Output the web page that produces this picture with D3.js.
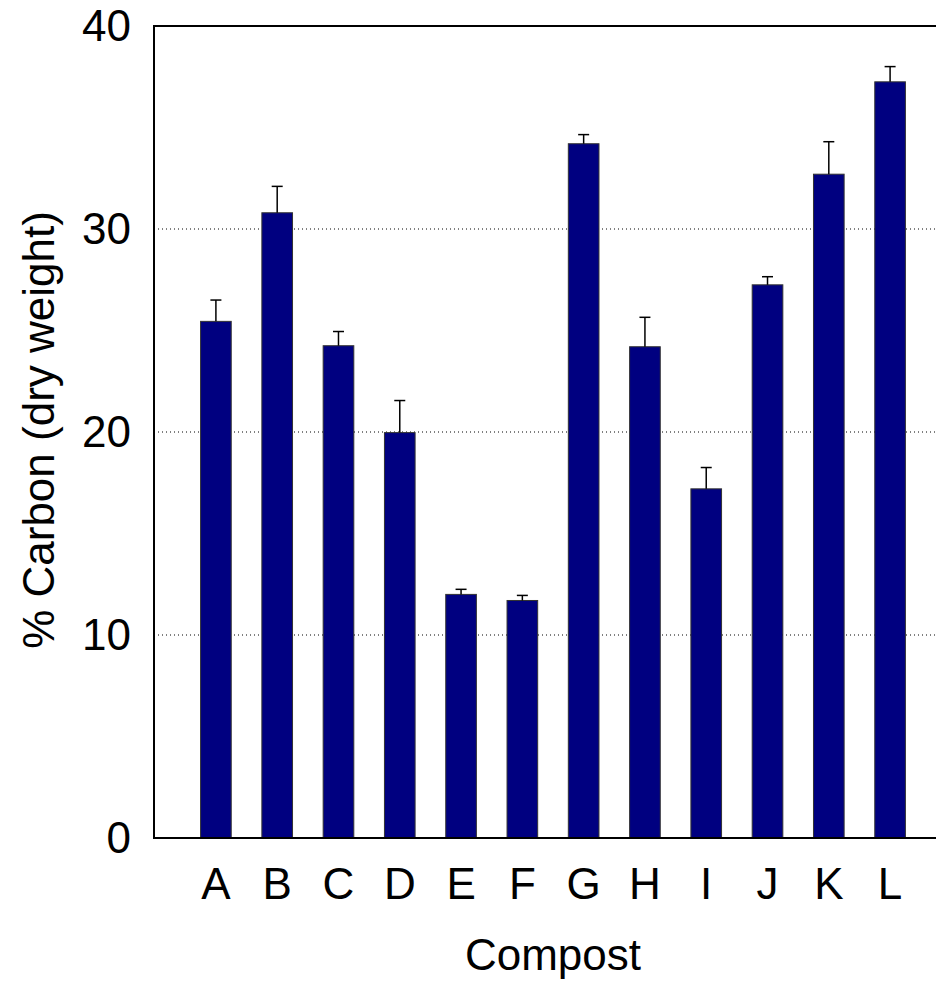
<!DOCTYPE html>
<html>
<head>
<meta charset="utf-8">
<script src="https://cdn.jsdelivr.net/npm/d3@7"></script>
<style>
  html, body { margin: 0; padding: 0; background: #fff; }
  svg { display: block; font-family: "Liberation Sans", Arial, sans-serif; }
</style>
</head>
<body>
<svg id="chart" width="936" height="984"></svg>
<script>
// Compost carbon content, mean and upper error bound
const composts = ["A", "B", "C", "D", "E", "F", "G", "H", "I", "J", "K", "L"];
const carbonMean = [25.45, 30.8, 24.25, 19.97, 12.0, 11.7, 34.2, 24.2, 17.2, 27.25, 32.7, 37.25];
const carbonUpper = [26.5, 32.1, 24.95, 21.55, 12.25, 11.95, 34.65, 25.65, 18.25, 27.65, 34.3, 38.0];
const yTicks = [0, 10, 20, 30, 40];

const svg = d3.select("#chart");
const plotLeft = 154, plotTop = 26, plotBottom = 838, plotRight = 952;
const fontSize = 44;

const x = d3.scaleBand()
  .domain(composts)
  .range([plotLeft, plotRight])
  .paddingInner(0.5)
  .paddingOuter(0.76);

const y = d3.scaleLinear().domain([0, 40]).range([plotBottom, plotTop]);

// dotted gridlines
svg.append("g")
  .selectAll("line")
  .data(yTicks.filter(d => d > 0 && d < 40))
  .join("line")
  .attr("x1", plotLeft).attr("x2", 936)
  .attr("y1", d => y(d)).attr("y2", d => y(d))
  .attr("stroke", "#000")
  .attr("stroke-width", 1)
  .attr("stroke-dasharray", "1,3");

// bars
svg.append("g")
  .selectAll("rect")
  .data(composts)
  .join("rect")
  .attr("x", d => x(d))
  .attr("width", x.bandwidth())
  .attr("y", (d, i) => y(carbonMean[i]))
  .attr("height", (d, i) => y(0) - y(carbonMean[i]))
  .attr("fill", "#000080")
  .attr("stroke", "#333")
  .attr("stroke-width", 1);

// upper error bars
const err = svg.append("g").attr("stroke", "#000").attr("stroke-width", 1.5);
composts.forEach((c, i) => {
  const cx = x(c) + x.bandwidth() / 2;
  err.append("line")
    .attr("x1", cx).attr("x2", cx)
    .attr("y1", y(carbonMean[i])).attr("y2", y(carbonUpper[i]));
  err.append("line")
    .attr("x1", cx - 5.5).attr("x2", cx + 5.5)
    .attr("y1", y(carbonUpper[i])).attr("y2", y(carbonUpper[i]));
});

// frame: left axis, bottom axis, top border
const frame = svg.append("g").attr("stroke", "#000").attr("stroke-width", 2).attr("fill", "none");
frame.append("path").attr("d", `M936,${plotTop}H${plotLeft}V${plotBottom}H936`);

// y axis labels
const yAxis = d3.axisLeft(y).tickValues(yTicks).tickSize(0).tickPadding(23).tickFormat(d3.format("d"));
svg.append("g")
  .attr("transform", `translate(${plotLeft},0)`)
  .call(yAxis)
  .call(g => g.select(".domain").remove())
  .call(g => g.selectAll("text")
    .attr("font-family", "Liberation Sans, Arial, sans-serif")
    .attr("font-size", fontSize)
    .attr("fill", "#000"));

// x axis labels
const xAxis = d3.axisBottom(x).tickSize(0).tickPadding(30);
svg.append("g")
  .attr("transform", `translate(0,${plotBottom})`)
  .call(xAxis)
  .call(g => g.select(".domain").remove())
  .call(g => g.selectAll("text")
    .attr("font-family", "Liberation Sans, Arial, sans-serif")
    .attr("font-size", fontSize)
    .attr("fill", "#000"));

// axis titles
svg.append("text")
  .attr("x", 553).attr("y", 970)
  .attr("text-anchor", "middle")
  .attr("font-size", fontSize)
  .text("Compost");

svg.append("text")
  .attr("transform", "translate(54,430) rotate(-90)")
  .attr("text-anchor", "middle")
  .attr("font-size", fontSize)
  .text("% Carbon (dry weight)");
</script>
</body>
</html>
